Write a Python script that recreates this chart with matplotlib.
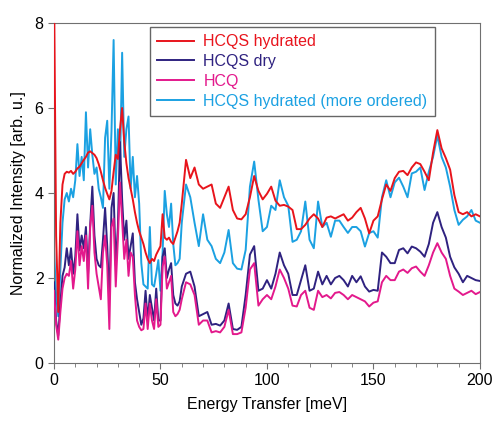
import numpy as np
import matplotlib
matplotlib.use("Agg")
import matplotlib.pyplot as plt
from matplotlib.ticker import MultipleLocator

plt.rcParams['font.family'] = ['Liberation Sans', 'DejaVu Sans']

# energy grid: 1 meV steps up to 60 meV, 2 meV steps after that
energy = list(range(0, 61)) + list(range(62, 201, 2))

hcqs_hydrated = [
    9.0, 3.0, 1.2, 3.3, 4.2, 4.45, 4.5, 4.48, 4.52, 4.45,
    4.5, 4.58, 4.62, 4.7, 4.78, 4.85, 4.95, 4.98, 4.94, 4.9,
    4.82, 4.68, 4.5, 4.3, 4.12, 3.98, 3.85, 4.05, 4.5, 4.9,
    4.8, 5.5, 6.0, 5.2, 4.7, 4.35, 4.1, 3.85, 3.55, 3.3,
    3.1, 2.95, 2.8, 2.6, 2.45, 2.35, 2.45, 2.4, 2.55, 2.65,
    2.75, 3.5, 2.95, 2.9, 2.95, 2.85, 2.8, 2.95, 3.1, 3.3,
    3.75,
    4.78, 4.35, 4.6, 4.2, 4.1, 4.15, 4.2, 3.75, 3.65, 3.9,
    4.15, 3.6, 3.4, 3.38, 3.5, 3.9, 4.4, 4.05, 3.85, 3.98,
    4.15, 3.82, 3.7, 3.72, 3.68, 3.6, 3.15, 3.15, 3.25, 3.4,
    3.5, 3.4, 3.2, 3.42, 3.45, 3.4, 3.45, 3.5, 3.35, 3.42,
    3.55, 3.65, 3.4, 3.05, 3.35, 3.45, 3.85, 4.2, 4.05, 4.35,
    4.5, 4.52, 4.42, 4.6, 4.72, 4.68, 4.5, 4.3, 4.95, 5.48,
    5.05, 4.82, 4.55, 3.95, 3.55, 3.5, 3.55, 3.45, 3.5, 3.45,
]

hcqs_dry = [
    1.9, 1.0, 0.65, 1.4, 2.05, 2.25, 2.7, 2.3, 2.7, 2.1,
    2.5, 3.5, 2.65, 3.0, 2.7, 3.2, 2.1, 3.25, 4.15, 3.0,
    2.45, 2.3, 2.25, 2.9, 3.65, 2.75, 1.5, 3.65, 4.0, 2.3,
    3.2, 5.2, 3.85, 2.9, 3.35, 2.45, 2.75, 3.05, 1.9, 1.5,
    1.2, 0.9, 1.05, 1.7, 1.0, 1.6, 1.3, 1.0, 1.75, 1.0,
    1.0, 2.5, 2.7, 2.0, 2.2, 2.35, 1.6, 1.4, 1.35, 1.45,
    1.8,
    2.1, 2.15, 1.8, 1.1, 1.15, 1.2, 0.9, 0.92, 0.88, 1.0,
    1.4, 0.8, 0.78, 0.85, 1.6, 2.55, 2.75, 1.7, 1.75, 1.95,
    1.75, 2.1, 2.6, 2.3, 2.1, 1.6, 1.6, 1.95, 2.3, 1.7,
    1.75, 2.15, 1.85, 2.05, 1.85, 2.0, 2.05, 1.95, 1.8, 2.05,
    1.9, 2.04, 1.8, 1.68, 1.72, 1.7, 2.6, 2.5, 2.35, 2.35,
    2.66, 2.7, 2.58, 2.74, 2.7, 2.62, 2.5, 2.8, 3.3, 3.55,
    3.2, 2.95, 2.5, 2.25, 2.1, 1.9, 2.05, 2.0, 1.95, 1.93,
]

hcq = [
    1.7, 0.9, 0.55, 1.2, 1.75, 2.0, 2.1, 2.05, 2.4, 1.75,
    2.2, 3.1, 2.3, 2.75, 2.4, 3.0, 1.75, 3.2, 3.7, 2.6,
    2.1, 1.8, 1.5, 2.6, 3.0, 2.3, 0.8, 3.2, 3.4, 1.8,
    2.9, 4.25, 3.35, 2.45, 2.9, 2.05, 2.6, 2.5, 1.6, 1.0,
    0.85, 0.77, 0.8, 1.4, 0.8, 1.4, 1.0, 0.8, 1.5, 0.85,
    0.9, 2.27, 2.5, 1.75, 1.9, 2.05, 1.2, 1.1, 1.15, 1.25,
    1.5,
    1.9, 1.85, 1.6, 0.9, 1.0, 1.0, 0.72, 0.75, 0.72, 0.85,
    1.25, 0.68, 0.68, 0.72, 1.3, 2.2, 2.35, 1.35, 1.5, 1.6,
    1.5, 1.8, 2.2, 2.0, 1.75, 1.35, 1.33, 1.6, 1.7, 1.3,
    1.25, 1.7, 1.55, 1.6, 1.52, 1.65, 1.67, 1.6, 1.5, 1.6,
    1.55, 1.5, 1.45, 1.33, 1.42, 1.45, 1.9, 2.05, 1.95, 1.95,
    2.15, 2.2, 2.12, 2.23, 2.27, 2.15, 2.05, 2.3, 2.6, 2.82,
    2.6, 2.45, 2.05, 1.75, 1.68, 1.6, 1.65, 1.7, 1.62, 1.67,
]

hcqs_ordered = [
    2.7, 1.6, 1.1, 2.2, 3.3, 3.85, 4.0, 3.8, 4.1, 3.9,
    4.3, 5.15, 4.4, 4.85, 4.3, 5.9, 4.6, 5.5, 4.9, 4.45,
    4.6, 4.1, 3.9, 3.65, 5.3, 5.7, 4.1, 5.45, 7.6, 4.2,
    5.5, 4.6, 7.3, 4.85, 5.5, 5.8, 4.1, 4.85, 3.9, 4.4,
    3.75, 2.35, 1.85, 1.8, 1.75, 3.2, 1.85, 1.8, 2.1, 2.42,
    1.7, 2.6, 4.05, 3.5, 3.2, 3.75, 2.8, 2.3, 2.35, 2.45,
    3.3,
    4.2, 3.9, 3.3, 2.75, 3.5, 2.9, 2.75, 2.45, 2.35, 2.6,
    3.13, 2.35, 2.22, 2.2, 2.66, 4.15, 4.74, 3.84, 3.1, 3.2,
    3.7, 3.6, 4.3, 3.9, 3.7, 2.85, 2.9, 3.1, 3.8, 2.9,
    2.7, 3.8, 3.2, 3.3, 2.97, 3.35, 3.35, 3.2, 3.06, 3.2,
    3.2, 3.1, 2.74, 3.06, 3.1, 2.95, 3.9, 4.3, 3.9, 4.25,
    4.36, 4.15, 3.9, 4.46, 4.5, 4.6, 4.07, 4.5, 4.85, 5.35,
    4.85, 4.6, 4.15, 3.6, 3.25, 3.37, 3.45, 3.6, 3.35, 3.3,
]

labels = ["HCQS hydrated", "HCQS dry", "HCQ", "HCQS hydrated (more ordered)"]
colors = ["#e8141c", "#2f2280", "#e3198c", "#1ba1e2"]

fig = plt.figure(figsize=(4.93, 4.22), dpi=100)
ax = fig.add_axes([0.1095, 0.1398, 0.864, 0.8057])

series = [hcqs_hydrated, hcqs_dry, hcq, hcqs_ordered]
zorders = [5, 3, 4, 2]
lines = []
for vals, lab, col, z in zip(series, labels, colors, zorders):
    ln, = ax.plot(energy, vals, color=col, lw=1.4, label=lab, zorder=z)
    lines.append(ln)

ax.set_xlim(0, 200)
ax.set_ylim(0, 8)
ax.xaxis.set_major_locator(MultipleLocator(50))
ax.xaxis.set_minor_locator(MultipleLocator(10))
ax.yaxis.set_major_locator(MultipleLocator(2))
ax.tick_params(which='both', direction='out', color='#707070', labelsize=11.5)
ax.tick_params(which='major', length=4)
ax.tick_params(which='minor', length=3)
ax.tick_params(axis='y', which='minor', left=False)
for sp in ax.spines.values():
    sp.set_color('#707070')

ax.set_xlabel("Energy Transfer [meV]", fontsize=11.5, labelpad=6)
ax.set_ylabel("Normalized Intensity [arb. u.]", fontsize=11.5, labelpad=6)

leg = ax.legend(handles=lines, loc='upper left', bbox_to_anchor=(0.225, 0.988),
                borderaxespad=0, fontsize=11.5, frameon=True, fancybox=False,
                handlelength=2.3, handletextpad=0.6, borderpad=0.45,
                labelspacing=0.3)
leg.get_frame().set_edgecolor('#404040')
leg.get_frame().set_linewidth(1.0)
for txt, col in zip(leg.get_texts(), colors):
    txt.set_color(col)

fig.savefig("out.png", dpi=100)
